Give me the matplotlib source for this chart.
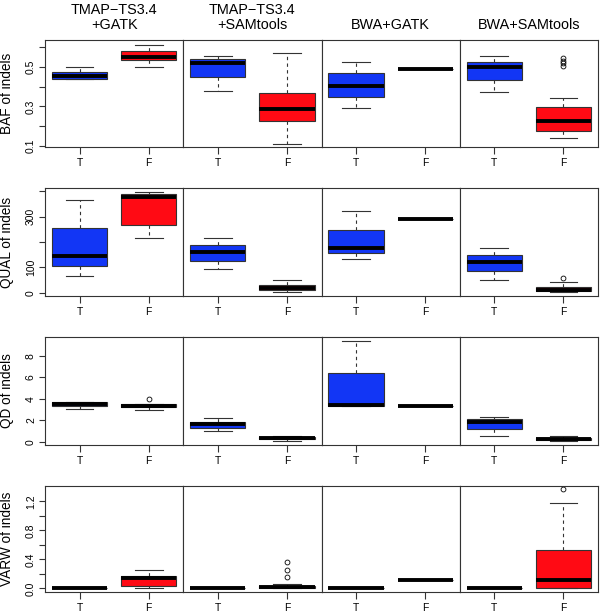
import matplotlib
matplotlib.use("Agg")
from matplotlib import pyplot as plt
import numpy as np

plt.rcParams['font.family'] = ['Liberation Sans', 'DejaVu Sans']

pipelines = ["TMAP\u2212TS3.4\n+GATK", "TMAP\u2212TS3.4\n+SAMtools", "BWA+GATK", "BWA+SAMtools"]
groups = ["T", "F"]
metrics = ["BAF of indels", "QUAL of indels", "QD of indels", "VARW of indels"]

# summary stats: [whislo, q1, med, q3, whishi] per pipeline, T then F
baf_T = [[0.437, 0.44, 0.452, 0.475, 0.497],
         [0.379, 0.449, 0.52, 0.538, 0.553],
         [0.29, 0.345, 0.404, 0.467, 0.526],
         [0.373, 0.434, 0.498, 0.523, 0.555]]
baf_F = [[0.497, 0.535, 0.548, 0.579, 0.609],
         [0.11, 0.226, 0.288, 0.366, 0.568],
         [0.49, 0.49, 0.49, 0.49, 0.49],
         [0.14, 0.178, 0.226, 0.297, 0.34]]
baf_out_F = [[], [], [], [0.503, 0.517, 0.53, 0.543]]

qual_T = [[68, 106, 144, 255, 364],
          [94, 127, 160, 187, 216],
          [132, 155, 177, 249, 322],
          [49, 86, 122, 149, 178]]
qual_F = [[214, 265, 375, 388, 395],
          [5, 13, 19, 31, 52],
          [291, 291, 291, 291, 291],
          [5, 6, 10, 25, 42]]
qual_out_F = [[], [], [], [57]]

qd_T = [[3.08, 3.32, 3.5, 3.72, 3.72],
        [1.02, 1.32, 1.66, 1.88, 2.18],
        [3.32, 3.32, 3.38, 6.37, 9.32],
        [0.58, 1.2, 1.82, 2.09, 2.34]]
qd_F = [[2.92, 3.2, 3.35, 3.54, 3.54],
        [0.12, 0.25, 0.35, 0.5, 0.58],
        [3.29, 3.29, 3.29, 3.29, 3.29],
        [0.12, 0.15, 0.25, 0.4, 0.58]]
qd_out_F = [[3.94], [], [], []]

varw_T = [[0, 0, 0, 0, 0],
          [0, 0, 0, 0, 0],
          [0, 0, 0, 0, 0],
          [0, 0, 0, 0, 0]]
varw_F = [[0, 0.036, 0.145, 0.164, 0.25],
          [0, 0.0, 0.015, 0.03, 0.06],
          [0.109, 0.109, 0.109, 0.109, 0.109],
          [0, 0, 0.109, 0.527, 1.18]]
varw_out_F = [[], [0.155, 0.255, 0.364], [], [1.37]]

rows = [(baf_T, baf_F, baf_out_F), (qual_T, qual_F, qual_out_F),
        (qd_T, qd_F, qd_out_F), (varw_T, varw_F, varw_out_F)]
ylims = [(0.095, 0.635), (-12, 412), (-0.28, 9.72), (-0.05, 1.41)]
yticks = [np.arange(0.1, 0.61, 0.1), np.arange(0, 401, 100), np.arange(0, 9, 2), np.arange(0, 1.21, 0.2)]
ylabels = [["0.1", "", "0.3", "", "0.5", ""], ["0", "100", "", "300", ""],
           ["0", "2", "4", "6", "8"], ["0.0", "", "0.4", "", "0.8", "", "1.2"]]

blue = "#1236f5"
red = "#ff0a14"
edge = "#333333"

W, H = 600, 615
row_px = [(40, 147), (188, 296), (337, 445), (486, 592)]
left_px, right_px = 45, 598
pw = (right_px - left_px) / 4

fig = plt.figure(figsize=(6, 6.15), dpi=100)

for r, (sT, sF, outF) in enumerate(rows):
    top, bot = row_px[r]
    for c in range(4):
        ax = fig.add_axes([(left_px + c * pw) / W, 1 - bot / H, pw / W, (bot - top) / H])
        stats = []
        for s, fl in ((sT[c], []), (sF[c], outF[c])):
            stats.append(dict(whislo=s[0], q1=s[1], med=s[2], q3=s[3], whishi=s[4], fliers=fl))
        bp = ax.bxp(stats, positions=[1, 2], widths=0.8, capwidths=0.4, patch_artist=True,
                    boxprops=dict(edgecolor=edge, linewidth=0.8),
                    medianprops=dict(color="black", linewidth=2.8, solid_capstyle="butt"),
                    whiskerprops=dict(color=edge, linewidth=0.8, linestyle=(0, (3, 3))),
                    capprops=dict(color=edge, linewidth=0.8),
                    flierprops=dict(marker="o", markersize=3.5, markerfacecolor="none",
                                    markeredgecolor="black", markeredgewidth=0.6))
        bp["boxes"][0].set_facecolor(blue)
        bp["boxes"][1].set_facecolor(red)
        ax.set_xlim(0.5, 2.5)
        ax.set_ylim(*ylims[r])
        ax.set_xticks([1, 2])
        ax.set_xticklabels(groups)
        ax.tick_params(axis="x", length=5, width=0.8, color=edge, pad=3, labelsize=7.5)
        for sp in ax.spines.values():
            sp.set_color(edge)
            sp.set_linewidth(0.8)
        if c == 0:
            ax.set_yticks(yticks[r])
            ax.set_yticklabels(ylabels[r])
            ax.tick_params(axis="y", length=4.5, width=0.8, color=edge, pad=2,
                           labelsize=7.5, labelrotation=90)
            for lab in ax.get_yticklabels():
                lab.set_va("center")
            ax.set_ylabel(metrics[r], fontsize=9.8)
            ax.yaxis.set_label_coords(-0.225, 0.5)
        else:
            ax.set_yticks([])
        if r == 0:
            ax.set_title(pipelines[c], fontsize=10.4, pad=8, linespacing=1.1)

plt.savefig("out.png", dpi=100)
